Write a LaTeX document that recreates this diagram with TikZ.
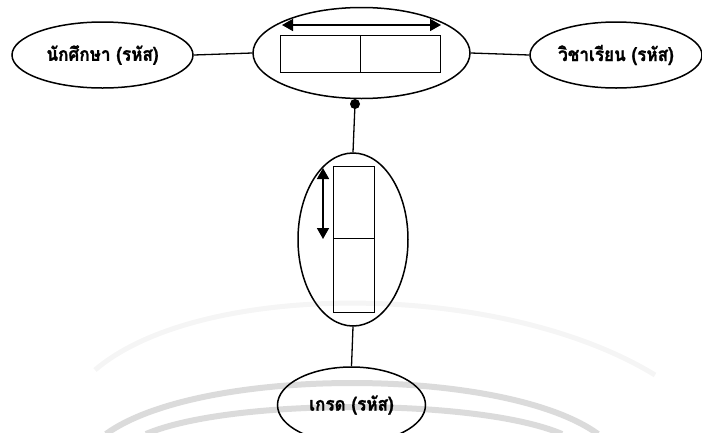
\documentclass[tikz,border=0pt]{standalone}
\usepackage{fontspec}
\newfontfamily\thaifont[Script=Thai, FakeStretch=0.9, BoldFeatures={FakeBold=1.2}]{Loma}
\usetikzlibrary{arrows.meta,shapes.geometric}
\tikzset{
  ent/.style={draw, ellipse, line width=1.5pt, inner sep=0pt, font=\thaifont\bfseries\fontsize{19}{22}\selectfont},
  box/.style={draw, rectangle, line width=1pt, inner sep=0pt},
  conn/.style={line width=1.3pt},
  dblarrow/.style={line width=1.6pt, {Triangle[length=11pt,width=12pt]}-{Triangle[length=11pt,width=12pt]}},
  wmark/.style={line width=6pt, color=gray!28},
  wfaint/.style={line width=5pt, color=gray!8}
}
\begin{document}
\begin{tikzpicture}[x=1pt,y=-1pt]
\useasboundingbox (0,0) rectangle (702,432);
% watermark arcs
\draw[wfaint] (95,370) .. controls (200,280) and (500,280) .. (655,375);
\draw[wmark] (106,434) .. controls (200,366) and (504,366) .. (598,434);
\draw[wmark] (146,434) .. controls (230,398) and (478,398) .. (562,434);
% entities
\node[ent, minimum width=181pt, minimum height=66pt] (stu) at (102.5,55) {นักศึกษา (รหัส)};
\node[ent, minimum width=172pt, minimum height=66pt] (subj) at (616,55) {วิชาเรียน (รหัส)};
\node[ent, minimum width=148pt, minimum height=76pt] (grade) at (351.5,405) {เกรด (รหัส)};
% central relationship ellipse
\node[ent, minimum width=217pt, minimum height=91pt] (rel) at (361.5,53) {};
\node[box, minimum width=80pt, minimum height=37pt] (k1) at (320,53.5) {};
\node[box, minimum width=80pt, minimum height=37pt] (k2) at (400,53.5) {};
\coordinate (ha) at (282,25);
\coordinate (hb) at (441,25);
\draw[dblarrow] (ha) -- (hb);
% dot
\node[circle, fill, inner sep=0pt, minimum size=10pt] (dot) at (355,104) {};
% vertical ellipse
\node[ent, minimum width=110pt, minimum height=173pt] (grp) at (353,239.5) {};
\node[box, minimum width=41pt, minimum height=72pt] (g1) at (353.5,202) {};
\node[box, minimum width=41pt, minimum height=74pt] (g2) at (353.5,275) {};
\coordinate (va) at (323,168);
\coordinate (vb) at (323,239);
\draw[dblarrow] (va) -- (vb);
% connectors
\draw[conn] (stu.east) -- (rel.west);
\draw[conn] (rel.east) -- (subj.west);
\draw[conn] (dot.center) -- (grp.north);
\draw[conn] (grp.south) -- (grade.north);
\end{tikzpicture}
\end{document}
